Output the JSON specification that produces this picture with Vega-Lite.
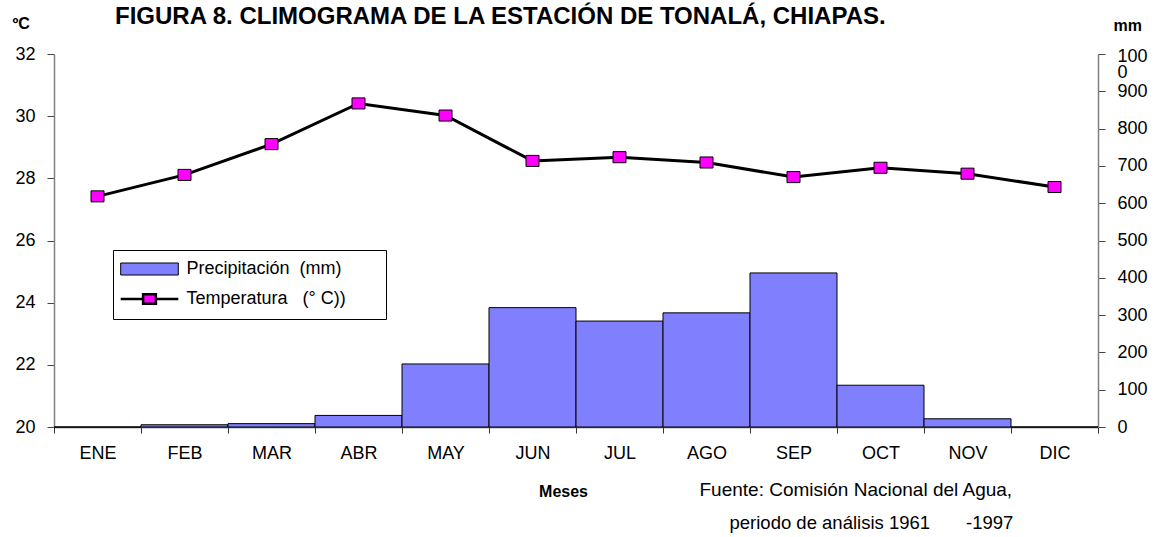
{
  "$schema": "https://vega.github.io/schema/vega-lite/v6.json",
  "autosize": "none",
  "width": 1044,
  "height": 373,
  "padding": {"left": 54, "top": 54, "right": 57, "bottom": 110},
  "background": "white",
  "config": {
    "view": {"stroke": null},
    "font": "Liberation Sans",
    "axis": {"labelFont": "Liberation Sans", "labelColor": "black", "titleFont": "Liberation Sans", "titleColor": "black", "grid": false, "labelOverlap": false}
  },
  "title": {
    "text": "FIGURA 8. CLIMOGRAMA DE LA ESTACIÓN DE TONALÁ, CHIAPAS.",
    "anchor": "start",
    "frame": "group",
    "baseline": "alphabetic",
    "dx": 61,
    "offset": -33,
    "fontSize": 24,
    "fontWeight": "bold",
    "font": "Liberation Sans",
    "color": "black"
  },
  "data": {
    "values": [
      {"mes": "ENE", "precip": 0, "temp": 27.42},
      {"mes": "FEB", "precip": 6, "temp": 28.11},
      {"mes": "MAR", "precip": 9, "temp": 29.1},
      {"mes": "ABR", "precip": 31, "temp": 30.41},
      {"mes": "MAY", "precip": 169, "temp": 30.02},
      {"mes": "JUN", "precip": 320, "temp": 28.56},
      {"mes": "JUL", "precip": 284, "temp": 28.68},
      {"mes": "AGO", "precip": 306, "temp": 28.51},
      {"mes": "SEP", "precip": 413, "temp": 28.04},
      {"mes": "OCT", "precip": 112, "temp": 28.34},
      {"mes": "NOV", "precip": 22, "temp": 28.15},
      {"mes": "DIC", "precip": 0, "temp": 27.72}
    ]
  },
  "encoding": {
    "x": {
      "field": "mes",
      "type": "nominal",
      "sort": null,
      "scale": {"paddingInner": 0, "paddingOuter": 0},
      "axis": {
        "title": "Meses",
        "titleFontSize": 16,
        "titleFontWeight": "bold",
        "titleX": 509,
        "titleY": 64,
        "titleBaseline": "middle",
        "labelAngle": 0,
        "labelFontSize": 18,
        "labelPadding": 11,
        "tickBand": "extent",
        "tickSize": 6,
        "tickColor": "#333333",
        "domainColor": "#555555",
        "domainWidth": 1.5
      }
    }
  },
  "layer": [
    {
      "layer": [
        {
          "mark": {"type": "bar", "stroke": "black", "strokeWidth": 1, "opacity": 1},
          "encoding": {
            "y": {
              "field": "precip",
              "type": "quantitative",
              "scale": {"domain": [0, 1000], "nice": false},
              "axis": {
                "orient": "right",
                "title": "mm",
                "titleAngle": 0,
                "titleFontSize": 16,
                "titleFontWeight": "bold",
                "titleAlign": "left",
                "titleBaseline": "middle",
                "titleX": 15,
                "titleY": -29,
                "values": [0, 100, 200, 300, 400, 500, 600, 700, 800, 900, 1000],
                "labelExpr": "datum.value == 1000 ? ['100', '0'] : datum.label",
                "labelOffset": {"condition": {"test": "datum.value == 1000", "value": 2}, "value": 0},
                "labelFontSize": 18,
                "labelPadding": 12,
                "labelLineHeight": 16,
                "tickSize": 7,
                "tickColor": "#444444",
                "domainColor": "#808080",
                "domainWidth": 1.5
              }
            },
            "fill": {
              "datum": "Precipitación",
              "type": "nominal",
              "scale": {"domain": ["Precipitación", "Temperatura"], "range": ["#8080ff", "#ff00ff"]},
              "legend": {
                "title": null,
                "orient": "none",
                "legendX": 59,
                "legendY": 196,
                "direction": "vertical",
                "strokeColor": "black",
                "fillColor": "white",
                "padding": 10,
                "symbolSize": 256,
                "symbolStrokeColor": "black",
                "symbolStrokeWidth": 1,
                "symbolOpacity": 1,
                "symbolOffset": 17.5,
                "labelOffset": 28,
                "labelLimit": 400,
                "rowPadding": 11,
                "labelFont": "Liberation Sans",
                "labelFontSize": 18,
                "labelColor": "black",
                "labelExpr": "datum.value == 'Precipitación' ? 'Precipitación\u00a0\u00a0(mm)' : 'Temperatura\u00a0\u00a0\u00a0(°\u00a0C))\u00a0\u00a0\u00a0\u00a0\u00a0\u00a0\u200b'",
                "encode": {
                  "symbols": {
                    "update": {
                      "shape": {"signal": "datum.value == 'Precipitación' ? 'M-3.6,-0.75H3.6V0.75H-3.6Z' : 'M-3.6,0H-0.8M0.8,0H3.6M-0.8,-0.6H0.8V0.6H-0.8Z'"},
                      "strokeWidth": {"signal": "datum.value == 'Precipitación' ? 1 : 2.5"}
                    }
                  }
                }
              }
            }
          }
        }
      ]
    },
    {
      "layer": [
        {
          "mark": {"type": "line", "color": "black", "strokeWidth": 3},
          "encoding": {
            "y": {
              "field": "temp",
              "type": "quantitative",
              "scale": {"domain": [20, 32], "nice": false, "zero": false},
              "axis": {
                "orient": "left",
                "title": "ºC",
                "titleAngle": 0,
                "titleFontSize": 16,
                "titleFontWeight": "bold",
                "titleAlign": "left",
                "titleBaseline": "middle",
                "titleX": -42,
                "titleY": -31,
                "values": [20, 22, 24, 26, 28, 30, 32],
                "labelFontSize": 18,
                "labelPadding": 12,
                "tickSize": 7,
                "tickColor": "#444444",
                "domainColor": "#808080",
                "domainWidth": 1.5
              }
            }
          }
        },
        {
          "mark": {"type": "point", "shape": "M-1,-0.85H1V0.85H-1Z", "size": 169, "filled": true, "opacity": 1, "stroke": "black", "strokeWidth": 1},
          "encoding": {
            "y": {"field": "temp", "type": "quantitative"},
            "fill": {
              "datum": "Temperatura",
              "type": "nominal"
            }
          }
        },
        {
          "data": {"values": [{"nota": "Fuente: Comisión Nacional del Agua,"}]},
          "mark": {"type": "text", "align": "left", "baseline": "middle", "fontSize": 19, "color": "black", "dx": -7},
          "encoding": {
            "x": {"datum": "AGO"},
            "y": {"datum": 17.97},
            "text": {"field": "nota"}
          }
        },
        {
          "data": {"values": [{"nota": "periodo de análisis 1961\u00a0\u00a0\u00a0\u00a0\u00a0\u00a0\u00a0-1997"}]},
          "mark": {"type": "text", "align": "left", "baseline": "middle", "fontSize": 18.5, "color": "black", "dx": 23},
          "encoding": {
            "x": {"datum": "AGO"},
            "y": {"datum": 16.9},
            "text": {"field": "nota"}
          }
        }
      ]
    }
  ],
  "resolve": {"scale": {"y": "independent"}}
}
